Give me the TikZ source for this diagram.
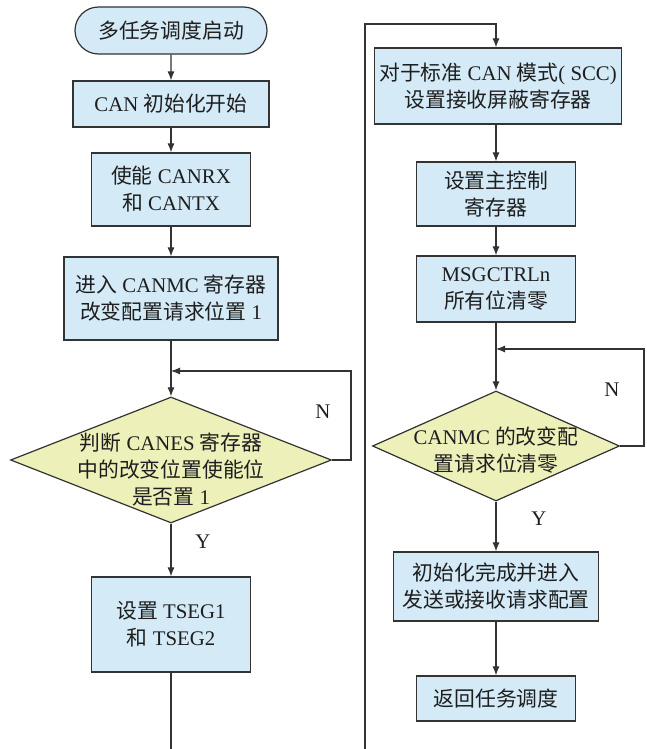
\documentclass[tikz,border=0pt]{standalone}
\usepackage{fontspec}
\setmainfont{Liberation Serif}
\newfontfamily\zh{Noto Sans CJK SC}
\usetikzlibrary{shapes.geometric,shapes.misc,arrows.meta}
\definecolor{boxfill}{HTML}{D4EAF7}
\definecolor{decfill}{HTML}{EDF0B8}
\definecolor{edge}{HTML}{333333}
\definecolor{ink}{HTML}{1E1E1E}

\begin{document}
\begin{tikzpicture}[x=1pt,y=-1pt,
  every node/.style={font=\fontsize{20.8}{27}\selectfont, text=ink},
  proc/.style={draw=edge, line width=1.2pt, fill=boxfill, inner sep=0pt, align=center},
  term/.style={proc, rounded rectangle},
  dec/.style={draw=edge, line width=1.2pt, fill=decfill, diamond, inner sep=0pt},
  txt/.style={align=center, inner sep=0pt},
  flow/.style={draw=edge, line width=1.1pt, -{Latex[length=9pt,width=7pt]}},
  wire/.style={draw=edge, line width=1.1pt}]

\useasboundingbox (0,0) rectangle (646,749);

% ---- left column ----
\node[term, minimum width=192pt, minimum height=47pt] (start) at (171,30.5) {\zh 多任务调度启动};
\node[proc, minimum width=196pt, minimum height=46pt] (b1) at (171,104) {CAN {\zh 初始化开始}};
\node[proc, minimum width=159pt, minimum height=73pt] (b2) at (171,189.5) {{\zh 使能} CANRX\\{\zh 和} CANTX};
\node[proc, minimum width=214pt, minimum height=83pt] (b3) at (171,298.5) {{\zh 进入} CANMC {\zh 寄存器}\\{\zh 改变配置请求位置} 1};
\node[dec, minimum width=321pt, minimum height=126pt] (d1) at (171,460) {};
\node[txt] (d1t) at (171,470) {{\zh 判断} CANES {\zh 寄存器}\\{\zh 中的改变位置使能位}\\{\zh 是否置} 1};
\node[proc, minimum width=159pt, minimum height=95pt] (b4) at (171,624.5) {{\zh 设置} TSEG1\\{\zh 和} TSEG2};

\node[txt] (n1) at (323,412) {N};
\node[txt] (y1) at (203,542) {Y};

\coordinate (l1) at (351,371);
\coordinate (endl) at (171,749);

\draw[flow] (start) -- (b1);
\draw[flow] (b1) -- (b2);
\draw[flow] (b2) -- (b3);
\draw[flow] (b3) -- (d1);
\draw[flow] (d1.east) -| (l1) -- (b3.south |- l1);
\draw[flow] (d1) -- (b4);
\draw[wire] (b4) -- (endl);

% ---- right column ----
\node[proc, minimum width=247pt, minimum height=76pt] (r1) at (498,86) {{\zh 对于标准} CAN {\zh 模式}( SCC)\\{\zh 设置接收屏蔽寄存器}};
\node[proc, minimum width=159pt, minimum height=64pt] (r2) at (496,194) {{\zh 设置主控制}\\{\zh 寄存器}};
\node[proc, minimum width=159pt, minimum height=66pt] (r3) at (496,289) {MSGCTRLn\\{\zh 所有位清零}};
\node[dec, minimum width=247pt, minimum height=110pt] (d2) at (496,446) {};
\node[txt] (d2t) at (496,450) {CANMC {\zh 的改变配}\\{\zh 置请求位清零}};
\node[proc, minimum width=205pt, minimum height=69pt] (r4) at (496,586.5) {{\zh 初始化完成并进入}\\{\zh 发送或接收请求配置}};
\node[proc, minimum width=159pt, minimum height=45pt] (r5) at (496,698.5) {\zh 返回任务调度};

\node[txt] (n2) at (612,390) {N};
\node[txt] (y2) at (539,519) {Y};

\coordinate (c1) at (365,749);
\coordinate (c2) at (365,24);
\coordinate (l2) at (644,349);

\draw[flow] (c1) -- (c2) -| (r2.north |- r1.north);
\draw[flow] (r1.south -| r2.north) -- (r2);
\draw[flow] (r2) -- (r3);
\draw[flow] (r3) -- (d2);
\draw[flow] (d2.east) -| (l2) -- (r3.south |- l2);
\draw[flow] (d2) -- (r4);
\draw[flow] (r4) -- (r5);
\end{tikzpicture}
\end{document}
